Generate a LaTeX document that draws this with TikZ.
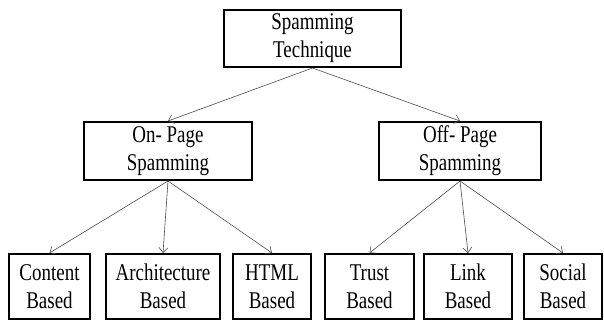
\documentclass[tikz,border=0pt]{standalone}
\usepackage{fontspec}
\setmainfont{Liberation Serif}[FakeStretch=0.79]
\usetikzlibrary{positioning,arrows.meta}

\begin{document}
\begin{tikzpicture}[x=1pt, y=1pt,
    node distance=11pt,
    box/.style={draw, line width=2.4pt, minimum height=57.6pt, align=center, inner sep=0pt, font=\fontsize{24}{28}\selectfont},
    leaf/.style={box, minimum height=64.6pt},
    arr/.style={draw=black!70, line width=0.6pt, -{Straight Barb[length=5pt,width=9pt]}}
]
\useasboundingbox (0,0) rectangle (604,322);

% root
\node[box, minimum width=176.6pt, minimum height=56.6pt] (root) at (312.5,283.5) {Spamming\\Technique};

% second level
\node[box, minimum width=167.6pt] (onpage) at (168,171) {On- Page\\Spamming};
\node[box, minimum width=161.6pt] (offpage) at (460,171) {Off- Page\\Spamming};

% leaves
\node[leaf, minimum width=80.6pt] (content) at (49.5,35.5) {Content\\Based};
\node[leaf, minimum width=113.6pt, right=14pt of content] (arch) {Architecture\\Based};
\node[leaf, minimum width=77.6pt, right=11pt of arch] (html) {HTML\\Based};
\node[leaf, minimum width=88.6pt, right=12pt of html] (trust) {Trust\\Based};
\node[leaf, minimum width=87.6pt, right=8pt of trust] (link) {Link\\Based};
\node[leaf, minimum width=77.6pt, right=10pt of link] (social) {Social\\Based};

% connectors
\draw[arr] (root.south) -- (onpage.north);
\draw[arr] (root.south) -- (offpage.north);
\foreach \c in {content,arch,html}
  \draw[arr] (onpage.south) -- (\c.north);
\foreach \c in {trust,link,social}
  \draw[arr] (offpage.south) -- (\c.north);
\end{tikzpicture}
\end{document}
